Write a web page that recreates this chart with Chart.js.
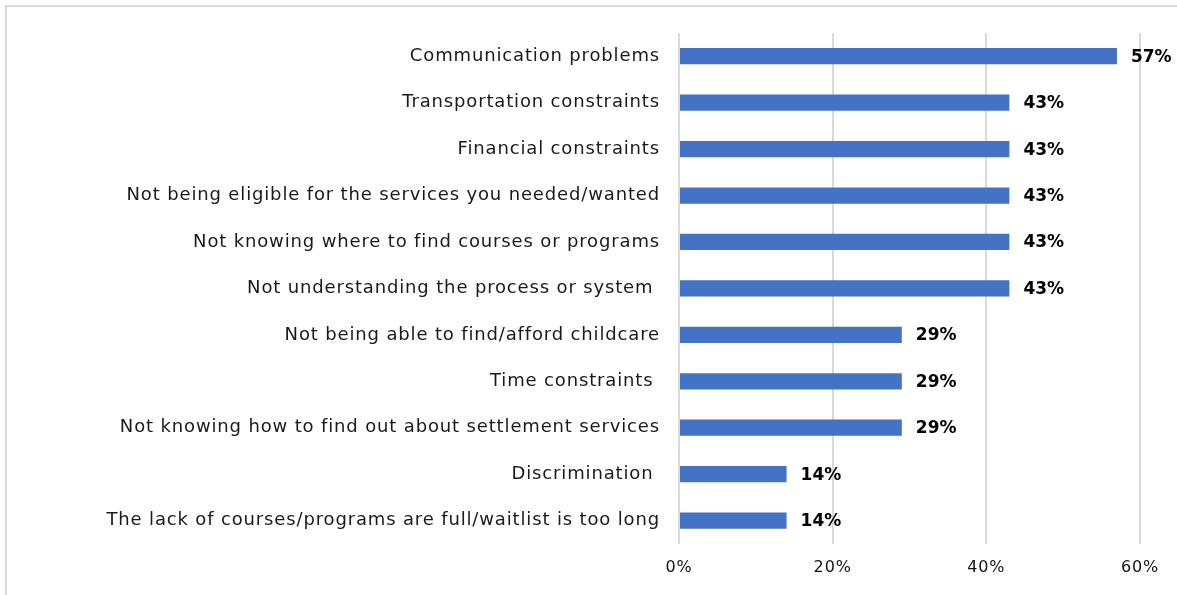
<!DOCTYPE html>
<html>
<head>
<meta charset="utf-8">
<script src="https://cdn.jsdelivr.net/npm/chart.js@4/dist/chart.umd.min.js"></script>
<style>
  html, body { margin: 0; padding: 0; background: #fff; overflow: hidden; }
  #frame {
    position: absolute; left: 5px; top: 5px; width: 1300px; height: 700px;
    border-left: 2px solid #d9d9d9; border-top: 2px solid #d9d9d9;
  }
  #wrap { position: absolute; left: 0; top: 0; width: 1177px; height: 595px; }
</style>
</head>
<body>
<div id="frame"></div>
<div id="wrap"><canvas id="barriersChart"></canvas></div>
<script>
// Barriers to accessing services, share of respondents
const barrierLabels = [
  "Communication problems",
  "Transportation constraints",
  "Financial constraints",
  "Not being eligible for the services you needed/wanted",
  "Not knowing where to find courses or programs",
  "Not understanding the process or system ",
  "Not being able to find/afford childcare",
  "Time constraints ",
  "Not knowing how to find out about settlement services",
  "Discrimination ",
  "The lack of courses/programs are full/waitlist is too long",
];
const barrierShares = [57, 43, 43, 43, 43, 43, 29, 29, 29, 14, 14];
const axisTicks = [0, 20, 40, 60];

const FONT = "'DejaVu Sans', sans-serif";

// wider tracking for the category names
const tracking = {
  id: "tracking",
  beforeLayout(chart) {
    chart.ctx.letterSpacing = "0.85px";
  },
  beforeDraw(chart) {
    chart.ctx.letterSpacing = "0.85px";
  },
};

// draws the bold percentage next to each bar
const valueLabels = {
  id: "valueLabels",
  afterDatasetsDraw(chart) {
    const ctx = chart.ctx;
    const meta = chart.getDatasetMeta(0);
    ctx.save();
    ctx.letterSpacing = "0px";
    ctx.font = "bold 17px " + FONT;
    ctx.fillStyle = "#000";
    ctx.textAlign = "left";
    ctx.textBaseline = "middle";
    meta.data.forEach((bar, i) => {
      ctx.fillText(barrierShares[i] + "%", bar.x + 14, bar.y + 1);
    });
    ctx.restore();
  },
};

new Chart(document.getElementById("barriersChart"), {
  type: "bar",
  data: {
    labels: barrierLabels,
    datasets: [
      {
        data: barrierShares,
        backgroundColor: "#4472c4",
        barPercentage: 0.7,
        categoryPercentage: 0.5,
      },
    ],
  },
  options: {
    indexAxis: "y",
    responsive: true,
    maintainAspectRatio: false,
    animation: false,
    layout: { padding: { left: 0, right: 37, top: 33, bottom: 4 } },
    plugins: {
      legend: { display: false },
      tooltip: { enabled: false },
    },
    scales: {
      x: {
        min: 0,
        max: 60,
        afterBuildTicks: (scale) => {
          scale.ticks = axisTicks.map((v) => ({ value: v }));
        },
        ticks: {
          callback: (v) => v + "%",
          color: "#111",
          padding: 14,
          font: { family: FONT, size: 16 },
        },
        grid: { color: "#d9d9d9", lineWidth: 2, drawTicks: false },
        border: { display: false },
      },
      y: {
        afterFit: (scale) => {
          scale.width = 679;
        },
        ticks: {
          color: "#1a1a1a",
          padding: 19,
          autoSkip: false,
          font: { family: FONT, size: 18 },
        },
        grid: { display: false, drawTicks: false },
        border: { display: false },
      },
    },
  },
  plugins: [tracking, valueLabels],
});
</script>
</body>
</html>
